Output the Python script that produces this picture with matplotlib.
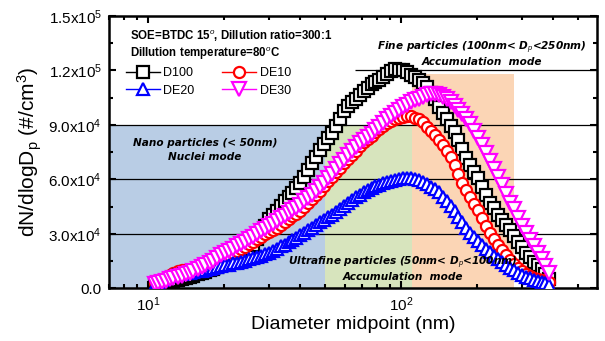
import numpy as np
import matplotlib
matplotlib.use("Agg")
import matplotlib.pyplot as plt
from matplotlib.ticker import FixedLocator, LogLocator, NullFormatter, FuncFormatter

plt.rcParams['font.family'] = ['Liberation Sans', 'DejaVu Sans']
plt.rcParams['mathtext.fontset'] = 'custom'
plt.rcParams['mathtext.rm'] = 'Liberation Sans'
plt.rcParams['mathtext.it'] = 'Liberation Sans:italic'
plt.rcParams['mathtext.bf'] = 'Liberation Sans:bold'

# SMPS channel midpoints (nm)
diam = [10.6, 10.9, 11.3, 11.8, 12.2, 12.6, 13.1, 13.6, 14.1, 14.6,
        15.1, 15.7, 16.3, 16.8, 17.5, 18.1, 18.8, 19.5, 20.2, 20.9,
        21.7, 22.5, 23.3, 24.1, 25.0, 25.9, 26.9, 27.9, 28.9, 30.0,
        31.1, 32.2, 33.4, 34.6, 35.9, 37.2, 38.5, 40.0, 41.4, 42.9,
        44.5, 46.1, 47.8, 49.6, 51.4, 53.3, 55.2, 57.3, 59.4, 61.5,
        63.8, 66.1, 68.5, 71.0, 73.7, 76.4, 79.1, 82.0, 85.1, 88.2,
        91.4, 94.7, 98.2, 101.8, 105.5, 109.4, 113.4, 117.6, 121.9, 126.3,
        131.0, 135.8, 140.7, 145.9, 151.2, 156.8, 162.5, 168.5, 174.7, 181.1,
        187.7, 194.6, 201.7, 209.1, 216.7, 224.7, 232.9, 241.4, 250.3, 259.5,
        269.0, 278.8, 289.0, 299.6, 310.6, 322.0, 333.8, 346.0, 358.7, 371.8,
        385.4]

# dN/dlogDp in units of 1000 #/cm3
d100 = [2.5, 2.8, 3.1, 3.4, 3.7, 4.2, 4.7, 5.1, 5.6, 6.2,
        6.9, 7.6, 8.4, 9.1, 10.0, 10.8, 11.8, 12.8, 13.8, 14.8,
        15.9, 17.0, 18.3, 19.9, 21.8, 24.0, 27.0, 30.5, 34.5, 38.0,
        40.5, 42.6, 45.5, 48.0, 50.2, 52.5, 55.2, 58.0, 61.5, 65.0,
        69.0, 72.5, 76.0, 79.5, 82.5, 85.5, 89.5, 93.5, 97.5, 100.5,
        102.5, 104.5, 106.5, 108.5, 110.5, 112.5, 113.5, 115.0, 116.5, 118.0,
        119.5, 121.0, 120.0, 120.5, 119.0, 117.5, 116.5, 115.0, 113.0, 111.0,
        107.5, 104.0, 100.0, 96.5, 93.0, 89.5, 86.0, 81.5, 76.5, 72.0,
        68.0, 64.0, 60.5, 56.0, 51.5, 47.0, 44.0, 40.5, 37.5, 35.0,
        32.0, 29.0, 25.5, 22.5, 19.5, 17.0, 14.5, 12.5, 10.5, 8.0,
        5.0]
de10 = [3.0, 4.0, 5.0, 6.3, 7.3, 8.4, 9.4, 9.9, 10.0, 10.0,
        10.2, 10.5, 11.2, 11.8, 12.5, 13.2, 14.3, 15.6, 17.0, 18.0,
        19.2, 20.4, 21.6, 22.8, 24.2, 25.6, 27.0, 28.4, 29.6, 30.8,
        32.0, 33.4, 34.8, 36.3, 37.9, 39.5, 41.0, 42.8, 44.8, 46.9,
        49.0, 51.2, 53.6, 56.2, 58.8, 61.2, 63.8, 66.5, 69.0, 71.4,
        73.5, 75.8, 78.2, 80.6, 82.3, 84.0, 86.0, 87.8, 89.5, 91.0,
        92.0, 93.0, 93.8, 94.4, 95.0, 94.7, 94.0, 93.0, 91.4, 89.0,
        86.5, 84.3, 81.8, 78.8, 75.8, 72.5, 67.8, 63.0, 58.2, 54.0,
        50.0, 46.5, 43.0, 38.8, 34.5, 30.2, 27.0, 24.0, 21.3, 18.2,
        15.5, 13.2, 11.0, 9.4, 8.0, 6.8, 5.8, 5.0, 4.3, 3.7,
        3.2]
de20 = [2.0, 3.2, 4.5, 5.6, 6.5, 7.2, 7.6, 7.9, 8.2, 8.5,
        8.8, 9.2, 9.7, 10.1, 10.6, 11.0, 11.5, 12.0, 12.6, 13.0,
        13.6, 14.0, 14.6, 15.1, 15.8, 16.4, 17.1, 17.9, 18.6, 19.5,
        20.6, 21.8, 23.0, 24.0, 25.3, 26.6, 27.8, 29.2, 30.5, 31.9,
        33.4, 34.8, 36.2, 37.6, 39.0, 40.5, 42.0, 43.6, 45.2, 46.8,
        48.5, 50.0, 51.6, 53.0, 54.2, 55.3, 56.2, 57.0, 57.8, 58.4,
        59.0, 59.6, 60.1, 60.6, 60.8, 60.7, 60.2, 59.5, 58.6, 57.3,
        56.0, 54.5, 52.8, 50.5, 48.0, 45.4, 42.5, 39.3, 36.2, 33.2,
        30.4, 28.0, 26.0, 24.0, 21.8, 19.8, 17.8, 16.0, 14.3, 12.6,
        11.2, 9.8, 8.6, 7.4, 6.4, 5.4, 4.6, 3.8, 3.2, 2.6,
        2.0]
de30 = [2.5, 3.0, 3.6, 4.2, 4.8, 5.4, 6.1, 6.8, 7.6, 8.4,
        9.3, 10.3, 11.6, 12.5, 13.9, 15.2, 16.6, 18.0, 19.3, 20.4,
        21.7, 23.0, 24.3, 25.6, 27.0, 28.3, 29.8, 31.3, 32.6, 34.0,
        35.4, 36.8, 38.4, 39.9, 41.5, 43.0, 44.4, 46.0, 47.8, 49.8,
        51.5, 53.5, 55.8, 58.2, 60.8, 63.0, 65.5, 68.2, 70.8, 73.5,
        75.8, 77.8, 80.0, 81.8, 83.5, 85.2, 87.0, 89.0, 91.0, 93.0,
        95.0, 96.8, 98.4, 99.8, 101.2, 102.4, 103.5, 104.5, 105.5, 106.2,
        106.8, 107.0, 106.6, 105.6, 104.2, 102.4, 100.4, 98.3, 96.0, 93.4,
        90.3, 86.8, 83.0, 79.0, 74.6, 70.0, 65.8, 61.5, 57.0, 52.0,
        47.2, 43.5, 38.8, 34.5, 30.5, 26.8, 23.0, 19.5, 16.0, 12.0,
        8.5]

labels = ['D100', 'DE10', 'DE20', 'DE30']
series = [d100, de10, de20, de30]
colors = ['black', 'red', 'blue', 'magenta']
markers = ['s', 'o', '^', 'v']
msizes = [8.0, 8.0, 9.0, 9.5]

XMIN, XMAX = 7.0, 595.0
YMAX = 1.5e5

fig = plt.figure(figsize=(6.05, 3.41), dpi=100)
ax = fig.add_axes([0.180, 0.155, 0.807, 0.798])

# mode regions
ax.axvspan(XMIN, 50, ymin=0, ymax=9e4 / YMAX, color='#b9cde5', lw=0, zorder=0)
ax.axvspan(50, 110, ymin=0, ymax=9e4 / YMAX, color='#d7e4bd', lw=0, zorder=0)
ax.axvspan(110, 280, ymin=0, ymax=1.18e5 / YMAX, color='#fbd5b5', lw=0, zorder=0)

for yv in [3e4, 6e4, 9e4]:
    ax.axhline(yv, color='black', lw=0.9, zorder=1)
ax.hlines(1.2e5, 66, XMAX, color='black', lw=0.9, zorder=1)

x = np.array(diam)
handles = {}
for i, (lab, ys, c, m, ms) in enumerate(zip(labels, series, colors, markers, msizes)):
    h, = ax.plot(x, np.array(ys) * 1e3, color=c, lw=1.0, marker=m, ms=ms,
                 mfc='white', mec=c, mew=1.6, label=lab, zorder=3 + i)
    handles[lab] = h

ax.set_xscale('log')
ax.set_xlim(XMIN, XMAX)
ax.set_ylim(0, YMAX)
ax.xaxis.set_major_locator(FixedLocator([10, 100]))
ax.xaxis.set_major_formatter(FuncFormatter(lambda v, p: r'10$^{%d}$' % round(np.log10(v))))
ax.xaxis.set_minor_locator(LogLocator(base=10, subs=np.arange(2, 10)))
ax.xaxis.set_minor_formatter(NullFormatter())

yticks = [0, 3e4, 6e4, 9e4, 1.2e5, 1.5e5]
ylabels = ['0.0', r'3.0x10$^4$', r'6.0x10$^4$', r'9.0x10$^4$', r'1.2x10$^5$', r'1.5x10$^5$']
ax.set_yticks(yticks)
ax.set_yticklabels(ylabels)
ax.set_yticks(np.arange(1.5e4, 1.5e5, 3e4), minor=True)

ax.tick_params(which='both', direction='in', top=True, right=True, labelsize=11, width=1.5)
ax.tick_params(which='major', length=5, pad=5)
ax.tick_params(which='minor', length=3)
for sp in ax.spines.values():
    sp.set_linewidth(1.8)

ax.set_xlabel('Diameter midpoint (nm)', fontsize=14, labelpad=2)
ax.set_ylabel(r'dN/dlogD$_\mathrm{p}$ (#/cm$^3$)', fontsize=15, labelpad=3)

ax.text(0.043, 0.928, r'SOE=BTDC 15$^o$, Dillution ratio=300:1', transform=ax.transAxes,
        fontsize=8.3, fontweight='bold', va='center', ha='left')
ax.text(0.043, 0.863, r'Dillution temperature=80$^o$C', transform=ax.transAxes,
        fontsize=8.3, fontweight='bold', va='center', ha='left')

# legend rows: D100 DE10 / DE20 DE30 (matplotlib fills columns first)
leg_order = ['D100', 'DE20', 'DE10', 'DE30']
ax.legend(handles=[handles[k] for k in leg_order], ncol=2, loc='upper left',
          bbox_to_anchor=(0.035, 0.812), frameon=False, fontsize=9,
          handlelength=2.7, handletextpad=0.3, columnspacing=2.2,
          labelspacing=0.45, borderpad=0, borderaxespad=0)

note = dict(fontsize=7.6, fontweight='bold', style='italic', family='DejaVu Sans',
            ha='center', va='center', transform=ax.transAxes, zorder=10)
ax.text(0.197, 0.533, 'Nano particles (< 50nm)', **note)
ax.text(0.197, 0.482, 'Nuclei mode', **note)
ax.text(0.764, 0.882, r'Fine particles (100nm< D$_p$<250nm)', **note)
ax.text(0.764, 0.831, 'Accumulation  mode', **note)
ax.text(0.602, 0.092, r'Ultrafine particles (50nm< D$_p$<100nm)', **note)
ax.text(0.602, 0.040, 'Accumulation  mode', **note)

fig.savefig('out.png', dpi=100)
